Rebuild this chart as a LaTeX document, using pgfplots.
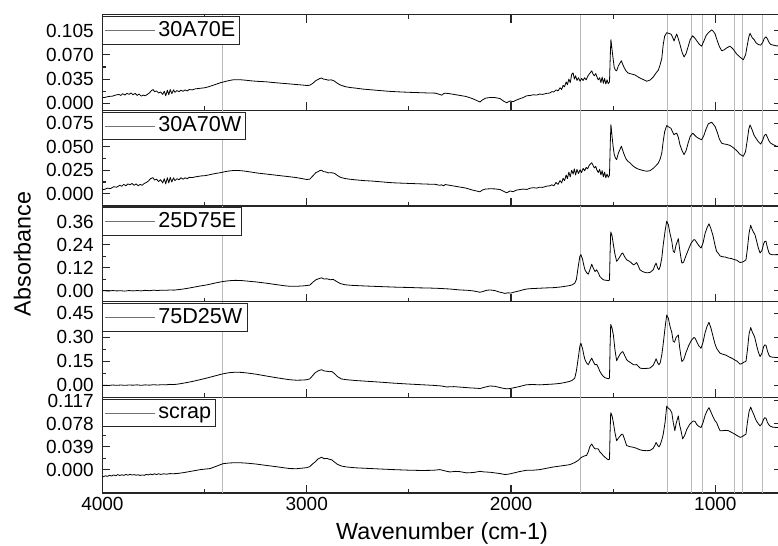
\documentclass[border=0pt]{standalone}
\usepackage{fontspec}
\setmainfont{Liberation Sans}
\setsansfont{Liberation Sans}
\usepackage{pgfplots}
\usepackage{pgfplotstable}
\pgfplotsset{compat=1.18}

% FTIR spectra: wavenumber (cm^-1) vs absorbance
\pgfplotstableread{
wn A
4010 0.0090
3990 0.0085
3970 0.0100
3950 0.0105
3935 0.0120
3920 0.0130
3910 0.0115
3900 0.0140
3890 0.0120
3880 0.0145
3870 0.0130
3860 0.0150
3850 0.0125
3840 0.0145
3830 0.0115
3820 0.0135
3810 0.0105
3800 0.0120
3790 0.0110
3780 0.0130
3770 0.0150
3760 0.0185
3752 0.0200
3745 0.0170
3735 0.0180
3725 0.0150
3715 0.0165
3705 0.0130
3697 0.0175
3690 0.0110
3682 0.0190
3675 0.0125
3668 0.0200
3660 0.0140
3652 0.0195
3645 0.0160
3635 0.0185
3625 0.0170
3615 0.0190
3605 0.0175
3595 0.0195
3585 0.0180
3575 0.0200
3560 0.0195
3545 0.0210
3530 0.0215
3515 0.0220
3500 0.0225
3480 0.0240
3460 0.0260
3440 0.0280
3420 0.0300
3400 0.0315
3380 0.0330
3360 0.0340
3340 0.0342
3320 0.0340
3300 0.0335
3270 0.0325
3240 0.0318
3200 0.0312
3160 0.0300
3120 0.0290
3080 0.0280
3050 0.0272
3020 0.0265
3000 0.0258
2985 0.0262
2970 0.0290
2955 0.0330
2945 0.0345
2935 0.0360
2927 0.0366
2918 0.0350
2905 0.0345
2895 0.0335
2880 0.0340
2870 0.0330
2862 0.0317
2850 0.0290
2835 0.0265
2813 0.0243
2790 0.0230
2760 0.0220
2720 0.0205
2680 0.0195
2640 0.0185
2600 0.0175
2560 0.0168
2500 0.0160
2450 0.0155
2400 0.0150
2370 0.0148
2350 0.0130
2339 0.0119
2330 0.0140
2322 0.0148
2300 0.0140
2260 0.0120
2220 0.0100
2190 0.0070
2170 0.0045
2152 0.0020
2140 0.0050
2125 0.0075
2103 0.0085
2080 0.0085
2054 0.0070
2035 0.0030
2021 0.0010
2005 0.0035
1990 0.0025
1972 0.0050
1955 0.0070
1940 0.0085
1923 0.0110
1905 0.0115
1890 0.0125
1875 0.0120
1860 0.0135
1845 0.0130
1825 0.0145
1810 0.0150
1800 0.0170
1790 0.0165
1780 0.0195
1770 0.0180
1760 0.0225
1752 0.0200
1745 0.0260
1738 0.0240
1730 0.0310
1724 0.0270
1717 0.0350
1710 0.0300
1703 0.0420
1696 0.0440
1690 0.0350
1684 0.0400
1677 0.0330
1670 0.0370
1662 0.0320
1655 0.0360
1647 0.0330
1640 0.0370
1632 0.0340
1625 0.0390
1618 0.0420
1610 0.0450
1605 0.0470
1598 0.0420
1592 0.0400
1585 0.0430
1580 0.0385
1573 0.0340
1566 0.0370
1560 0.0300
1554 0.0380
1548 0.0290
1542 0.0360
1536 0.0280
1530 0.0340
1524 0.0285
1518 0.0310
1514 0.0700
1511 0.0920
1505 0.0760
1500 0.0640
1495 0.0520
1489 0.0480
1483 0.0470
1475 0.0540
1467 0.0580
1460 0.0615
1453 0.0560
1445 0.0510
1437 0.0470
1428 0.0440
1418 0.0430
1405 0.0420
1393 0.0410
1380 0.0385
1369 0.0366
1350 0.0340
1336 0.0320
1320 0.0335
1304 0.0380
1290 0.0440
1279 0.0480
1270 0.0560
1262 0.0650
1255 0.0850
1248 0.0970
1238 0.1020
1228 0.1010
1217 0.1000
1210 0.0960
1202 0.0900
1195 0.0960
1189 0.1000
1181 0.0930
1173 0.0850
1163 0.0740
1153 0.0670
1143 0.0720
1133 0.0820
1123 0.0920
1111 0.0975
1100 0.0940
1090 0.0900
1078 0.0850
1067 0.0826
1056 0.0900
1045 0.0980
1034 0.1020
1018 0.1060
1010 0.1040
1001 0.1000
990 0.0900
980 0.0820
969 0.0760
958 0.0770
945 0.0800
928 0.0826
912 0.0780
895 0.0710
880 0.0670
863 0.0630
852 0.0700
843 0.0850
836 0.0960
830 0.1010
820 0.0950
810 0.0920
801 0.0875
790 0.0850
778 0.0840
768 0.0880
760 0.0940
752 0.0960
745 0.0930
737 0.0880
729 0.0850
715 0.0840
700 0.0830
680 0.0830
}\tAE

\pgfplotstableread{
wn A
4010 0.0045
3990 0.0046
3975 0.0060
3960 0.0055
3945 0.0075
3930 0.0070
3915 0.0090
3905 0.0080
3895 0.0100
3885 0.0085
3875 0.0105
3865 0.0095
3855 0.0110
3845 0.0090
3835 0.0105
3825 0.0085
3815 0.0100
3805 0.0090
3795 0.0110
3785 0.0120
3775 0.0135
3765 0.0160
3752 0.0172
3745 0.0145
3735 0.0155
3725 0.0130
3715 0.0150
3705 0.0115
3697 0.0160
3690 0.0105
3682 0.0170
3675 0.0115
3668 0.0175
3660 0.0125
3652 0.0170
3645 0.0140
3635 0.0160
3625 0.0150
3615 0.0170
3605 0.0155
3595 0.0170
3585 0.0160
3575 0.0175
3560 0.0172
3545 0.0180
3530 0.0185
3515 0.0190
3500 0.0192
3480 0.0200
3460 0.0210
3440 0.0218
3420 0.0225
3400 0.0235
3380 0.0242
3360 0.0247
3340 0.0248
3320 0.0245
3300 0.0240
3270 0.0230
3240 0.0220
3200 0.0210
3160 0.0200
3120 0.0190
3080 0.0180
3050 0.0172
3020 0.0160
3000 0.0152
2985 0.0155
2970 0.0190
2955 0.0225
2945 0.0235
2935 0.0248
2927 0.0250
2918 0.0235
2905 0.0232
2895 0.0222
2880 0.0225
2870 0.0220
2862 0.0215
2850 0.0195
2835 0.0175
2813 0.0162
2790 0.0155
2760 0.0148
2720 0.0140
2680 0.0135
2640 0.0128
2600 0.0120
2560 0.0115
2500 0.0110
2450 0.0106
2400 0.0102
2370 0.0100
2350 0.0090
2339 0.0095
2330 0.0085
2322 0.0098
2300 0.0090
2260 0.0075
2220 0.0060
2190 0.0040
2170 0.0030
2152 0.0021
2140 0.0040
2125 0.0050
2103 0.0053
2080 0.0052
2054 0.0045
2035 0.0025
2021 0.0010
2005 0.0030
1990 0.0022
1972 0.0040
1955 0.0045
1940 0.0050
1923 0.0046
1905 0.0060
1890 0.0065
1875 0.0060
1860 0.0070
1845 0.0068
1825 0.0081
1810 0.0085
1800 0.0095
1790 0.0085
1780 0.0120
1770 0.0100
1760 0.0140
1752 0.0115
1745 0.0165
1738 0.0140
1730 0.0200
1724 0.0160
1717 0.0230
1710 0.0180
1703 0.0250
1696 0.0210
1690 0.0265
1684 0.0200
1677 0.0260
1670 0.0215
1662 0.0255
1655 0.0225
1647 0.0270
1640 0.0245
1632 0.0280
1625 0.0265
1618 0.0300
1610 0.0320
1605 0.0330
1598 0.0300
1592 0.0275
1585 0.0290
1580 0.0255
1573 0.0225
1566 0.0260
1560 0.0200
1554 0.0245
1548 0.0180
1542 0.0230
1536 0.0170
1530 0.0210
1524 0.0175
1518 0.0200
1514 0.0550
1511 0.0735
1505 0.0600
1500 0.0500
1495 0.0420
1489 0.0380
1483 0.0363
1475 0.0430
1467 0.0470
1460 0.0505
1453 0.0460
1445 0.0410
1437 0.0370
1428 0.0345
1418 0.0330
1405 0.0300
1393 0.0280
1380 0.0265
1369 0.0257
1350 0.0245
1336 0.0240
1320 0.0245
1304 0.0270
1290 0.0300
1279 0.0327
1270 0.0370
1262 0.0433
1255 0.0560
1248 0.0660
1238 0.0725
1228 0.0710
1217 0.0696
1210 0.0660
1202 0.0627
1195 0.0640
1189 0.0644
1181 0.0600
1173 0.0520
1163 0.0460
1153 0.0416
1143 0.0460
1133 0.0540
1123 0.0610
1111 0.0644
1100 0.0620
1090 0.0600
1078 0.0585
1067 0.0574
1056 0.0620
1045 0.0690
1034 0.0745
1018 0.0760
1010 0.0740
1001 0.0714
990 0.0650
980 0.0580
969 0.0538
958 0.0530
945 0.0525
928 0.0514
912 0.0490
895 0.0458
880 0.0420
863 0.0398
852 0.0450
843 0.0580
836 0.0690
830 0.0732
820 0.0680
810 0.0620
801 0.0590
790 0.0555
778 0.0528
768 0.0570
760 0.0620
752 0.0633
745 0.0600
737 0.0560
729 0.0538
715 0.0520
700 0.0505
680 0.0500
}\tAW

\pgfplotstableread{
wn A
4010 0.000
3990 0.001
3970 -0.001
3950 0.002
3930 0.000
3910 0.001
3890 -0.001
3870 0.002
3850 0.000
3830 0.002
3810 0.000
3790 0.003
3770 0.001
3750 0.004
3730 0.002
3710 0.004
3690 0.003
3670 0.005
3650 0.004
3635 0.006
3610 0.009
3580 0.014
3550 0.020
3520 0.026
3490 0.031
3473 0.035
3440 0.043
3410 0.049
3380 0.053
3350 0.055
3320 0.054
3290 0.051
3250 0.047
3196 0.040
3150 0.033
3110 0.027
3082 0.024
3050 0.024
3020 0.026
3000 0.028
2985 0.030
2970 0.045
2955 0.058
2940 0.064
2927 0.068
2915 0.062
2900 0.063
2885 0.058
2870 0.060
2855 0.050
2835 0.038
2813 0.032
2780 0.029
2740 0.027
2700 0.025
2650 0.023
2600 0.021
2550 0.019
2500 0.018
2450 0.016
2400 0.015
2350 0.013
2300 0.010
2250 0.005
2210 0.003
2185 0.000
2165 -0.004
2152 -0.007
2140 -0.004
2120 0.003
2103 0.005
2080 0.002
2060 -0.005
2040 -0.010
2030 -0.013
2015 -0.010
2000 -0.011
1980 -0.005
1960 0.000
1940 0.006
1923 0.010
1900 0.012
1860 0.014
1820 0.016
1793 0.017
1760 0.020
1735 0.024
1712 0.028
1700 0.032
1688 0.040
1680 0.060
1671 0.127
1663 0.180
1658 0.189
1650 0.165
1643 0.130
1638 0.110
1630 0.095
1622 0.087
1614 0.110
1605 0.139
1598 0.120
1589 0.101
1581 0.110
1573 0.095
1565 0.075
1556 0.065
1548 0.058
1540 0.056
1532 0.055
1524 0.054
1518 0.056
1515 0.200
1512 0.307
1506 0.290
1499 0.241
1491 0.190
1483 0.154
1475 0.165
1466 0.180
1458 0.195
1453 0.197
1445 0.180
1434 0.162
1425 0.157
1415 0.150
1401 0.136
1393 0.140
1385 0.148
1376 0.128
1369 0.110
1355 0.100
1336 0.094
1320 0.096
1304 0.110
1295 0.135
1290 0.145
1282 0.118
1276 0.110
1270 0.127
1262 0.171
1255 0.240
1246 0.311
1238 0.363
1230 0.345
1222 0.300
1213 0.258
1206 0.206
1200 0.200
1192 0.240
1181 0.272
1175 0.220
1168 0.170
1164 0.145
1155 0.150
1145 0.180
1130 0.220
1118 0.250
1105 0.267
1099 0.265
1090 0.250
1080 0.235
1070 0.223
1060 0.250
1050 0.300
1040 0.330
1031 0.349
1022 0.325
1012 0.290
1002 0.240
994 0.206
985 0.195
977 0.182
965 0.178
950 0.176
936 0.171
920 0.168
904 0.162
895 0.160
885 0.152
879 0.148
868 0.150
860 0.154
850 0.162
843 0.220
835 0.300
827 0.342
818 0.315
810 0.300
806 0.293
798 0.260
790 0.225
781 0.197
772 0.210
764 0.245
758 0.258
752 0.258
745 0.225
738 0.200
733 0.192
720 0.188
700 0.189
680 0.189
}\tDE

\pgfplotstableread{
wn A
4010 0.000
3990 0.001
3970 -0.001
3950 0.002
3930 0.000
3910 0.002
3890 0.000
3870 0.002
3850 0.001
3830 0.003
3810 0.000
3790 0.003
3770 0.001
3750 0.004
3730 0.002
3710 0.004
3690 0.003
3670 0.006
3650 0.005
3635 0.007
3610 0.012
3580 0.019
3550 0.027
3520 0.036
3490 0.045
3473 0.051
3440 0.062
3410 0.072
3380 0.079
3350 0.082
3320 0.081
3290 0.077
3250 0.070
3196 0.058
3150 0.048
3110 0.040
3082 0.035
3050 0.032
3020 0.033
3000 0.035
2985 0.040
2970 0.062
2960 0.077
2945 0.090
2927 0.098
2915 0.090
2900 0.088
2890 0.085
2878 0.087
2865 0.075
2850 0.055
2830 0.040
2804 0.035
2760 0.030
2700 0.025
2640 0.020
2578 0.014
2500 0.008
2440 0.004
2382 0.000
2340 -0.004
2315 -0.010
2280 -0.008
2240 -0.012
2200 -0.016
2170 -0.018
2152 -0.020
2130 -0.012
2103 -0.004
2080 -0.006
2060 -0.012
2040 -0.018
2020 -0.022
2005 -0.020
1990 -0.016
1960 -0.008
1924 0.004
1890 0.005
1860 0.003
1820 0.006
1793 0.008
1760 0.012
1735 0.018
1712 0.025
1700 0.032
1688 0.045
1680 0.090
1671 0.170
1663 0.245
1658 0.263
1650 0.230
1643 0.185
1638 0.160
1630 0.140
1622 0.129
1614 0.150
1605 0.170
1598 0.150
1589 0.129
1581 0.131
1573 0.112
1565 0.087
1556 0.068
1548 0.056
1540 0.048
1532 0.044
1524 0.0415
1518 0.045
1515 0.250
1512 0.381
1506 0.360
1499 0.315
1491 0.220
1483 0.154
1475 0.175
1466 0.195
1458 0.208
1453 0.211
1445 0.190
1434 0.160
1425 0.150
1415 0.142
1401 0.129
1393 0.128
1385 0.130
1376 0.118
1369 0.108
1355 0.105
1336 0.106
1320 0.108
1304 0.125
1295 0.150
1290 0.166
1282 0.140
1276 0.129
1270 0.140
1262 0.190
1255 0.260
1246 0.360
1238 0.440
1230 0.420
1222 0.370
1213 0.330
1206 0.274
1200 0.270
1192 0.300
1181 0.315
1175 0.240
1168 0.180
1164 0.149
1155 0.160
1145 0.200
1130 0.250
1118 0.280
1105 0.299
1099 0.295
1090 0.270
1080 0.245
1070 0.232
1060 0.270
1050 0.330
1040 0.370
1031 0.394
1022 0.360
1012 0.310
1002 0.260
994 0.232
985 0.215
977 0.201
965 0.195
950 0.190
936 0.180
920 0.170
904 0.158
895 0.152
885 0.140
879 0.132
868 0.138
860 0.145
850 0.149
843 0.220
835 0.320
827 0.361
818 0.330
810 0.310
806 0.294
798 0.250
790 0.210
781 0.180
772 0.200
764 0.240
758 0.253
752 0.250
745 0.215
738 0.190
733 0.180
720 0.176
700 0.174
680 0.174
}\tDW

\pgfplotstableread{
wn A
4010 -0.0125
3995 -0.0120
3985 -0.0105
3975 -0.0115
3965 -0.0095
3955 -0.0110
3945 -0.0090
3935 -0.0105
3925 -0.0085
3915 -0.0100
3905 -0.0088
3895 -0.0098
3885 -0.0082
3875 -0.0095
3865 -0.0080
3855 -0.0092
3845 -0.0085
3835 -0.0095
3825 -0.0088
3815 -0.0100
3805 -0.0090
3795 -0.0098
3785 -0.0082
3775 -0.0090
3765 -0.0075
3755 -0.0088
3745 -0.0070
3735 -0.0085
3725 -0.0070
3715 -0.0082
3700 -0.0072
3685 -0.0078
3670 -0.0068
3655 -0.0070
3635 -0.0067
3600 -0.0050
3560 -0.0025
3520 0.0000
3473 0.0017
3440 0.0060
3410 0.0100
3380 0.0112
3350 0.0117
3320 0.0115
3290 0.0108
3250 0.0095
3196 0.0070
3150 0.0050
3110 0.0030
3082 0.0017
3050 0.0015
3020 0.0025
3000 0.0033
2985 0.0050
2970 0.0100
2959 0.0128
2945 0.0180
2927 0.0210
2915 0.0185
2900 0.0190
2890 0.0175
2878 0.0167
2865 0.0130
2850 0.0090
2830 0.0060
2804 0.0044
2760 0.0030
2700 0.0020
2640 0.0010
2578 0.0000
2500 -0.0010
2440 -0.0015
2380 -0.0012
2348 0.0000
2320 -0.0025
2299 -0.0040
2270 -0.0030
2250 -0.0035
2217 -0.0056
2185 -0.0050
2152 -0.0030
2130 -0.0040
2103 -0.0045
2070 -0.0060
2054 -0.0067
2030 -0.0084
2015 -0.0078
2005 -0.0072
1990 -0.0060
1960 -0.0035
1924 -0.0011
1890 -0.0010
1859 0.0000
1830 0.0020
1793 0.0044
1760 0.0060
1735 0.0072
1712 0.0084
1688 0.0120
1671 0.0156
1658 0.0200
1654 0.0210
1638 0.0235
1630 0.0240
1622 0.0300
1614 0.0390
1605 0.0435
1598 0.0390
1589 0.0350
1581 0.0355
1573 0.0350
1565 0.0300
1556 0.0268
1548 0.0235
1540 0.0210
1532 0.0184
1524 0.0167
1518 0.0175
1515 0.0650
1512 0.0964
1506 0.0920
1499 0.0797
1491 0.0620
1483 0.0490
1475 0.0530
1466 0.0570
1458 0.0600
1453 0.0600
1445 0.0520
1434 0.0407
1420 0.0390
1401 0.0378
1385 0.0360
1369 0.0335
1355 0.0325
1336 0.0320
1320 0.0325
1304 0.0360
1295 0.0420
1290 0.0460
1282 0.0410
1276 0.0385
1270 0.0420
1262 0.0500
1255 0.0600
1246 0.0800
1238 0.1076
1230 0.1040
1222 0.1020
1213 0.0964
1206 0.0800
1198 0.0660
1192 0.0780
1181 0.0910
1175 0.0760
1168 0.0660
1160 0.0520
1150 0.0580
1140 0.0680
1125 0.0770
1108 0.0825
1099 0.0815
1090 0.0760
1080 0.0730
1070 0.0713
1060 0.0800
1050 0.0920
1040 0.1000
1031 0.1050
1022 0.0980
1012 0.0900
1002 0.0830
994 0.0800
985 0.0720
977 0.0660
965 0.0660
950 0.0665
936 0.0660
920 0.0630
904 0.0600
895 0.0580
885 0.0560
879 0.0546
868 0.0560
860 0.0580
850 0.0600
843 0.0800
835 0.0980
827 0.1060
818 0.0980
810 0.0920
806 0.0880
798 0.0820
790 0.0780
781 0.0740
772 0.0780
764 0.0850
758 0.0880
752 0.0870
745 0.0800
738 0.0760
733 0.0740
720 0.0720
700 0.0713
680 0.0710
}\tScrap

\newcommand{\bandlines}{%
  \pgfplotsinvokeforeach{3410,1659,1236,1119,1062,907,868,768}{%
    \draw[black!27, line width=0.75pt]
      (axis cs:##1,\pgfkeysvalueof{/pgfplots/ymin}) --
      (axis cs:##1,\pgfkeysvalueof{/pgfplots/ymax});}}

\pgfplotsset{
  panel/.style={
    scale only axis, width=509.5pt, height=71.75pt,
    x dir=reverse, xmin=675, xmax=4000,
    xtick={1000,2000,3000,4000}, minor xtick={1500,2500,3500},
    xticklabels={}, xtick pos=left, ytick pos=both,
    minor y tick num=1,
    scaled y ticks=false, scaled x ticks=false,
    tick align=inside,
    major tick length=6pt, minor tick length=3pt,
    every tick/.style={black!85, line width=0.8pt},
    axis line style={black!85, line width=1pt},
    /pgf/number format/assume math mode=true,
    ticklabel style={font=\fontsize{14.25}{16}\selectfont},
    yticklabel style={xshift=-3pt},
    legend style={at={(axis description cs:0,1)}, anchor=north west,
      yshift=-1pt,
      draw=black!85, line width=0.75pt, fill=white,
      font=\fontsize{16.2}{18}\selectfont,
      inner xsep=1pt, inner ysep=1pt,
      nodes={inner xsep=2.5pt, inner ysep=2pt,
        text height=11.8pt, text depth=3pt}},
    legend cell align=left,
    legend image code/.code={%
      \draw[black!55, line width=0.6pt] (0pt,0pt) -- (37.5pt,0pt);},
  },
  spec/.style={black, line width=0.6pt, line join=round},
}

\begin{document}
\begin{tikzpicture}
\path[use as bounding box] (-76.8pt,-398.5pt) rectangle (506.7pt,11pt);

\begin{axis}[panel, at={(0pt,0pt)}, anchor=north west,
  xtick pos=both,
  ymin=-0.010, ymax=0.128,
  ytick={0,0.035,0.070,0.105}, yticklabels={0.000,0.035,0.070,0.105}]
\bandlines
\addplot[spec] table[x=wn, y=A] {\tAE};
\addlegendentry{30A70E}
\end{axis}

\begin{axis}[panel, at={(0pt,-71.75pt)}, anchor=north west,
  ymin=-0.013, ymax=0.0887,
  ytick={0,0.025,0.050,0.075}, yticklabels={0.000,0.025,0.050,0.075}]
\bandlines
\addplot[spec] table[x=wn, y=A] {\tAW};
\addlegendentry{30A70W}
\end{axis}

\begin{axis}[panel, at={(0pt,-143.5pt)}, anchor=north west,
  ymin=-0.056, ymax=0.442,
  ytick={0,0.12,0.24,0.36}, yticklabels={0.00,0.12,0.24,0.36}]
\bandlines
\addplot[spec] table[x=wn, y=A] {\tDE};
\addlegendentry{25D75E}
\end{axis}

\begin{axis}[panel, at={(0pt,-215.25pt)}, anchor=north west,
  ymin=-0.075, ymax=0.523,
  ytick={0,0.15,0.30,0.45}, yticklabels={0.00,0.15,0.30,0.45}]
\bandlines
\addplot[spec] table[x=wn, y=A] {\tDW};
\addlegendentry{75D25W}
\end{axis}

\begin{axis}[panel, at={(0pt,-287pt)}, anchor=north west,
  ymin=-0.0397, ymax=0.1225,
  ytick={0,0.039,0.078,0.117}, yticklabels={0.000,0.039,0.078,0.117},
  xticklabels={1000,2000,3000,4000},
  xlabel={Wavenumber (cm-1)},
  every axis x label/.style={at={(axis description cs:0.5,0)},
    anchor=center, yshift=-30pt, font=\fontsize{17.5}{20}\selectfont}]
\bandlines
\addplot[spec] table[x=wn, y=A] {\tScrap};
\addlegendentry{scrap}
\end{axis}

\node[rotate=90, font=\fontsize{17.5}{20}\selectfont] at (-60pt,-179.4pt) {Absorbance};
\end{tikzpicture}
\end{document}
